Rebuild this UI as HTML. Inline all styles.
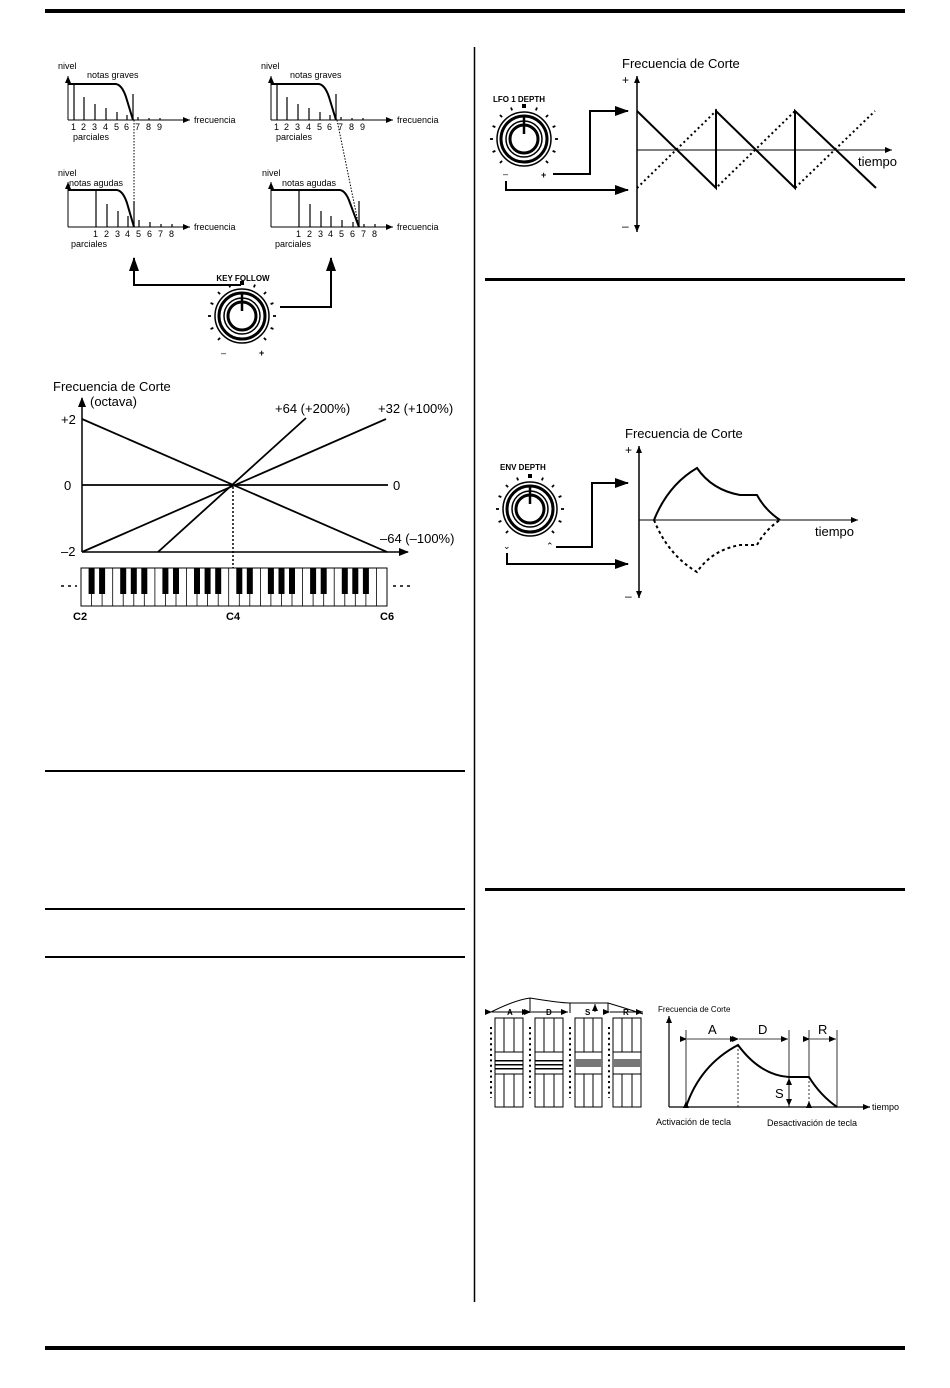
<!DOCTYPE html>
<html><head><meta charset="utf-8"><style>
html,body{margin:0;padding:0;background:#fff}
svg{display:block}
text{font-family:"Liberation Sans",Arial,sans-serif;fill:#000}
</style></head><body>
<svg width="950" height="1388" viewBox="0 0 950 1388" xmlns="http://www.w3.org/2000/svg">
<defs>
<marker id="ah" markerWidth="10" markerHeight="8" refX="9" refY="4" orient="auto" markerUnits="userSpaceOnUse"><path d="M0,0 L10,4 L0,8z" fill="#000"/></marker>
<marker id="as" markerWidth="7" markerHeight="6" refX="7" refY="3" orient="auto" markerUnits="userSpaceOnUse"><path d="M0,0 L7,3 L0,6z" fill="#000"/></marker>
<marker id="ab" markerWidth="14" markerHeight="10" refX="13" refY="5" orient="auto" markerUnits="userSpaceOnUse"><path d="M0,0 L14,5 L0,10z" fill="#000"/></marker>
<g id="tick"><line x1="0" y1="-31" x2="0" y2="-34" stroke="#000" stroke-width="1.8"/></g>
<g id="knob">
<use href="#tick" transform="rotate(-135)"/><use href="#tick" transform="rotate(-112.5)"/><use href="#tick" transform="rotate(-90)"/><use href="#tick" transform="rotate(-67.5)"/><use href="#tick" transform="rotate(-45)"/><use href="#tick" transform="rotate(-22.5)"/>
<rect x="-2" y="-35" width="4" height="4" fill="#000"/>
<use href="#tick" transform="rotate(22.5)"/><use href="#tick" transform="rotate(45)"/><use href="#tick" transform="rotate(67.5)"/><use href="#tick" transform="rotate(90)"/><use href="#tick" transform="rotate(112.5)"/><use href="#tick" transform="rotate(135)"/>
<circle r="27" fill="#fff" stroke="#000" stroke-width="1.5"/>
<circle r="23" fill="none" stroke="#000" stroke-width="3"/>
<circle r="18" fill="none" stroke="#000" stroke-width="1.5"/>
<circle r="14" fill="none" stroke="#000" stroke-width="3"/>
<line x1="0" y1="-22" x2="0" y2="-5" stroke="#000" stroke-width="2.5"/>
</g>
</defs>

<rect x="45" y="9" width="860" height="4" fill="#000"/>
<rect x="45" y="1346" width="860" height="4" fill="#000"/>
<line x1="474.5" y1="47" x2="474.5" y2="1302" stroke="#000" stroke-width="1.5"/>
<rect x="45" y="770" width="420" height="2" fill="#000"/>
<rect x="45" y="908" width="420" height="2" fill="#000"/>
<rect x="45" y="956" width="420" height="2" fill="#000"/>
<rect x="485" y="278" width="420" height="3" fill="#000"/>
<rect x="485" y="888" width="420" height="3" fill="#000"/>

<g font-size="9">
<text x="58" y="69">nivel</text><text x="87" y="78">notas graves</text>
<line x1="68" y1="120" x2="68" y2="76" stroke="#000" marker-end="url(#as)"/>
<line x1="68" y1="120" x2="190" y2="120" stroke="#000" marker-end="url(#as)"/>
<text x="194" y="123">frecuencia</text>
<path d="M68,84 L116,84 Q122,85 126,97 L133,120" fill="none" stroke="#000" stroke-width="2"/>
<g stroke="#000" stroke-width="1.2">
<line x1="74" y1="84" x2="74" y2="120"/><line x1="84" y1="97" x2="84" y2="120"/><line x1="95" y1="104" x2="95" y2="120"/><line x1="106" y1="108" x2="106" y2="120"/><line x1="117" y1="112" x2="117" y2="120"/><line x1="127" y1="115" x2="127" y2="120"/><line x1="133" y1="94" x2="133" y2="120"/><line x1="138" y1="117" x2="138" y2="120"/><line x1="149" y1="118" x2="149" y2="120"/><line x1="160" y1="118" x2="160" y2="120"/>
</g>
<text x="71" y="130">1</text><text x="81" y="130">2</text><text x="92" y="130">3</text><text x="103" y="130">4</text><text x="114" y="130">5</text><text x="124" y="130">6</text><text x="135" y="130">7</text><text x="146" y="130">8</text><text x="157" y="130">9</text>
<text x="73" y="140">parciales</text>
<text x="58" y="176">nivel</text><text x="69" y="186">notas agudas</text>
<line x1="68" y1="227" x2="68" y2="182" stroke="#000" marker-end="url(#as)"/>
<line x1="68" y1="227" x2="190" y2="227" stroke="#000" marker-end="url(#as)"/>
<text x="194" y="230">frecuencia</text>
<path d="M68,190 L117,190 Q123,191 127,203 L134,227" fill="none" stroke="#000" stroke-width="2"/>
<g stroke="#000" stroke-width="1.2">
<line x1="96" y1="190" x2="96" y2="227"/><line x1="107" y1="204" x2="107" y2="227"/><line x1="118" y1="211" x2="118" y2="227"/><line x1="128" y1="216" x2="128" y2="227"/><line x1="134" y1="201" x2="134" y2="227"/><line x1="139" y1="220" x2="139" y2="227"/><line x1="150" y1="222" x2="150" y2="227"/><line x1="161" y1="224" x2="161" y2="227"/><line x1="172" y1="224" x2="172" y2="227"/>
</g>
<text x="93" y="237">1</text><text x="104" y="237">2</text><text x="115" y="237">3</text><text x="125" y="237">4</text><text x="136" y="237">5</text><text x="147" y="237">6</text><text x="158" y="237">7</text><text x="169" y="237">8</text>
<text x="71" y="247">parciales</text>
<line x1="134" y1="120" x2="134" y2="227" stroke="#000" stroke-dasharray="1.5 1.5"/>

<g transform="translate(203,0)">
<text x="58" y="69">nivel</text><text x="87" y="78">notas graves</text>
<line x1="68" y1="120" x2="68" y2="76" stroke="#000" marker-end="url(#as)"/>
<line x1="68" y1="120" x2="190" y2="120" stroke="#000" marker-end="url(#as)"/>
<text x="194" y="123">frecuencia</text>
<path d="M68,84 L116,84 Q122,85 126,97 L133,120" fill="none" stroke="#000" stroke-width="2"/>
<g stroke="#000" stroke-width="1.2">
<line x1="74" y1="84" x2="74" y2="120"/><line x1="84" y1="97" x2="84" y2="120"/><line x1="95" y1="104" x2="95" y2="120"/><line x1="106" y1="108" x2="106" y2="120"/><line x1="117" y1="112" x2="117" y2="120"/><line x1="127" y1="115" x2="127" y2="120"/><line x1="133" y1="94" x2="133" y2="120"/><line x1="138" y1="117" x2="138" y2="120"/><line x1="149" y1="118" x2="149" y2="120"/><line x1="160" y1="118" x2="160" y2="120"/>
</g>
<text x="71" y="130">1</text><text x="81" y="130">2</text><text x="92" y="130">3</text><text x="103" y="130">4</text><text x="114" y="130">5</text><text x="124" y="130">6</text><text x="135" y="130">7</text><text x="146" y="130">8</text><text x="157" y="130">9</text>
<text x="73" y="140">parciales</text>
</g>
<text x="262" y="176">nivel</text><text x="282" y="186">notas agudas</text>
<line x1="271" y1="227" x2="271" y2="182" stroke="#000" marker-end="url(#as)"/>
<line x1="271" y1="227" x2="393" y2="227" stroke="#000" marker-end="url(#as)"/>
<text x="397" y="230">frecuencia</text>
<path d="M271,190 L340,190 Q346,191 350,203 L359,227" fill="none" stroke="#000" stroke-width="2"/>
<g stroke="#000" stroke-width="1.2">
<line x1="299" y1="190" x2="299" y2="227"/><line x1="310" y1="204" x2="310" y2="227"/><line x1="321" y1="211" x2="321" y2="227"/><line x1="331" y1="216" x2="331" y2="227"/><line x1="342" y1="220" x2="342" y2="227"/><line x1="353" y1="222" x2="353" y2="227"/><line x1="359" y1="201" x2="359" y2="227"/><line x1="364" y1="224" x2="364" y2="227"/><line x1="375" y1="224" x2="375" y2="227"/>
</g>
<text x="296" y="237">1</text><text x="307" y="237">2</text><text x="318" y="237">3</text><text x="328" y="237">4</text><text x="339" y="237">5</text><text x="350" y="237">6</text><text x="361" y="237">7</text><text x="372" y="237">8</text>
<text x="275" y="247">parciales</text>
<line x1="337" y1="120" x2="359" y2="227" stroke="#000" stroke-dasharray="1.5 1.5"/>
</g>
<polyline points="241,285 134,285 134,258" fill="none" stroke="#000" stroke-width="2" marker-end="url(#ab)"/>
<polyline points="280,307 331,307 331,258" fill="none" stroke="#000" stroke-width="2" marker-end="url(#ab)"/>
<text x="243" y="281" font-size="8" font-weight="bold" text-anchor="middle">KEY FOLLOW</text>
<use href="#knob" x="242" y="316"/>
<text x="221" y="356" font-size="9">–</text><text x="259" y="356" font-size="9" font-weight="bold">+</text>

<g font-size="13">
<text x="53" y="391">Frecuencia de Corte</text>
<text x="90" y="406">(octava)</text>
<text x="61" y="424">+2</text><text x="64" y="490">0</text><text x="61" y="556">–2</text>
<text x="275" y="413">+64 (+200%)</text><text x="378" y="413">+32 (+100%)</text>
<text x="393" y="490">0</text><text x="380" y="543">–64 (–100%)</text>
</g>
<line x1="82" y1="552" x2="82" y2="398" stroke="#000" stroke-width="1.5" marker-end="url(#ah)"/>
<line x1="82" y1="552" x2="408" y2="552" stroke="#000" stroke-width="1.5" marker-end="url(#ah)"/>
<g stroke="#000" stroke-width="1.8">
<line x1="82" y1="419" x2="387" y2="552"/>
<line x1="82" y1="552" x2="386" y2="419"/>
<line x1="82" y1="485" x2="388" y2="485"/>
<line x1="158" y1="552" x2="306" y2="418"/>
</g>
<line x1="233" y1="487" x2="233" y2="568" stroke="#000" stroke-width="1.5" stroke-dasharray="2 2"/>
<rect x="81" y="568" width="306" height="38" fill="#fff" stroke="#000" stroke-width="1"/>
<g stroke="#000" stroke-width="0.8">
<line x1="91.6" y1="568" x2="91.6" y2="606"/><line x1="102.1" y1="568" x2="102.1" y2="606"/><line x1="112.7" y1="568" x2="112.7" y2="606"/><line x1="123.2" y1="568" x2="123.2" y2="606"/><line x1="133.8" y1="568" x2="133.8" y2="606"/><line x1="144.3" y1="568" x2="144.3" y2="606"/><line x1="154.9" y1="568" x2="154.9" y2="606"/><line x1="165.4" y1="568" x2="165.4" y2="606"/><line x1="176" y1="568" x2="176" y2="606"/><line x1="186.5" y1="568" x2="186.5" y2="606"/><line x1="197" y1="568" x2="197" y2="606"/><line x1="207.6" y1="568" x2="207.6" y2="606"/><line x1="218.2" y1="568" x2="218.2" y2="606"/><line x1="228.7" y1="568" x2="228.7" y2="606"/><line x1="239.3" y1="568" x2="239.3" y2="606"/><line x1="249.8" y1="568" x2="249.8" y2="606"/><line x1="260.4" y1="568" x2="260.4" y2="606"/><line x1="270.9" y1="568" x2="270.9" y2="606"/><line x1="281.5" y1="568" x2="281.5" y2="606"/><line x1="292" y1="568" x2="292" y2="606"/><line x1="302.6" y1="568" x2="302.6" y2="606"/><line x1="313.1" y1="568" x2="313.1" y2="606"/><line x1="323.7" y1="568" x2="323.7" y2="606"/><line x1="334.2" y1="568" x2="334.2" y2="606"/><line x1="344.8" y1="568" x2="344.8" y2="606"/><line x1="355.3" y1="568" x2="355.3" y2="606"/><line x1="365.9" y1="568" x2="365.9" y2="606"/><line x1="376.4" y1="568" x2="376.4" y2="606"/>
</g>
<g fill="#000">
<rect x="88.6" y="568" width="6" height="26"/><rect x="99.1" y="568" width="6" height="26"/><rect x="120.2" y="568" width="6" height="26"/><rect x="130.8" y="568" width="6" height="26"/><rect x="141.3" y="568" width="6" height="26"/><rect x="162.4" y="568" width="6" height="26"/><rect x="173" y="568" width="6" height="26"/><rect x="194" y="568" width="6" height="26"/><rect x="204.6" y="568" width="6" height="26"/><rect x="215.2" y="568" width="6" height="26"/><rect x="236.3" y="568" width="6" height="26"/><rect x="246.8" y="568" width="6" height="26"/><rect x="267.9" y="568" width="6" height="26"/><rect x="278.5" y="568" width="6" height="26"/><rect x="289" y="568" width="6" height="26"/><rect x="310.1" y="568" width="6" height="26"/><rect x="320.7" y="568" width="6" height="26"/><rect x="341.8" y="568" width="6" height="26"/><rect x="352.3" y="568" width="6" height="26"/><rect x="362.9" y="568" width="6" height="26"/>
</g>
<line x1="61" y1="586" x2="77" y2="586" stroke="#000" stroke-width="1.5" stroke-dasharray="3 4"/>
<line x1="393" y1="586" x2="410" y2="586" stroke="#000" stroke-width="1.5" stroke-dasharray="3 4"/>
<g font-size="11" font-weight="bold"><text x="73" y="620">C2</text><text x="226" y="620">C4</text><text x="380" y="620">C6</text></g>

<text x="622" y="68" font-size="13">Frecuencia de Corte</text>
<text x="622" y="84" font-size="12">+</text><text x="622" y="230" font-size="12">–</text>
<line x1="637" y1="150" x2="637" y2="76" stroke="#000" stroke-width="1.5" marker-end="url(#as)"/>
<line x1="637" y1="150" x2="637" y2="232" stroke="#000" stroke-width="1.5" marker-end="url(#as)"/>
<line x1="637" y1="150" x2="892" y2="150" stroke="#000" stroke-width="1" marker-end="url(#as)"/>
<text x="858" y="166" font-size="13">tiempo</text>
<polyline points="637,111 716,188 716,111 795,188 795,111 876,188" fill="none" stroke="#000" stroke-width="2"/>
<polyline points="637,188 716,111 716,188 795,111 795,188 875,111" fill="none" stroke="#000" stroke-width="2" stroke-dasharray="2 3"/>
<text x="493" y="102" font-size="8" font-weight="bold">LFO 1 DEPTH</text>
<use href="#knob" x="524" y="139"/>
<text x="503" y="177" font-size="9">–</text><text x="541" y="178" font-size="9" font-weight="bold">+</text>
<polyline points="553,174 590,174 590,111 628,111" fill="none" stroke="#000" stroke-width="2" marker-end="url(#ab)"/>
<polyline points="506,181 506,190 628,190" fill="none" stroke="#000" stroke-width="2" marker-end="url(#ab)"/>

<text x="625" y="438" font-size="13">Frecuencia de Corte</text>
<text x="625" y="454" font-size="12">+</text><text x="625" y="600" font-size="12">–</text>
<line x1="639" y1="520" x2="639" y2="446" stroke="#000" stroke-width="1.5" marker-end="url(#as)"/>
<line x1="639" y1="520" x2="639" y2="598" stroke="#000" stroke-width="1.5" marker-end="url(#as)"/>
<line x1="639" y1="520" x2="858" y2="520" stroke="#000" stroke-width="1" marker-end="url(#as)"/>
<text x="815" y="536" font-size="13">tiempo</text>
<path d="M654,520 Q668,485 697,468 Q712,490 740,495 L757,495 Q765,510 780,520" fill="none" stroke="#000" stroke-width="2"/>
<path d="M654,520 Q668,555 697,572 Q712,550 740,545 L757,545 Q765,530 780,520" fill="none" stroke="#000" stroke-width="2" stroke-dasharray="3 3"/>
<text x="500" y="470" font-size="8" font-weight="bold">ENV DEPTH</text>
<use href="#knob" x="530" y="509"/>
<text x="503" y="549" font-size="9">⌄</text><text x="546" y="549" font-size="9">⌃</text>
<polyline points="556,547 592,547 592,483 628,483" fill="none" stroke="#000" stroke-width="2" marker-end="url(#ab)"/>
<polyline points="507,553 507,564 628,564" fill="none" stroke="#000" stroke-width="2" marker-end="url(#ab)"/>

<g stroke="#000" fill="none" stroke-width="1">
<path d="M491,1012 Q515,1000 530,998 Q560,1003 570,1003 L608,1003 Q625,1008 643,1014"/>
<line x1="530" y1="998" x2="530" y2="1013"/><line x1="570" y1="1003" x2="570" y2="1013"/><line x1="608" y1="1003" x2="608" y2="1013"/>
<line x1="492" y1="1012" x2="529" y2="1012" marker-start="url(#as)" marker-end="url(#as)"/>
<line x1="531" y1="1012" x2="568" y2="1012" marker-start="url(#as)" marker-end="url(#as)"/>
<line x1="610" y1="1012" x2="643" y2="1012" marker-start="url(#as)" marker-end="url(#as)"/>
<line x1="595" y1="1012" x2="595" y2="1004" marker-end="url(#as)"/>
</g>
<g font-size="8" font-weight="bold"><text x="507" y="1015">A</text><text x="546" y="1015">D</text><text x="585" y="1015">S</text><text x="623" y="1015">R</text></g>
<g stroke="#000" fill="#fff" stroke-width="1">
<rect x="495" y="1018" width="28" height="89"/><rect x="535" y="1018" width="28" height="89"/><rect x="575" y="1018" width="27" height="89"/><rect x="613" y="1018" width="28" height="89"/>
<line x1="504" y1="1018" x2="504" y2="1107"/><line x1="514" y1="1018" x2="514" y2="1107"/>
<line x1="544" y1="1018" x2="544" y2="1107"/><line x1="554" y1="1018" x2="554" y2="1107"/>
<line x1="584" y1="1018" x2="584" y2="1107"/><line x1="593" y1="1018" x2="593" y2="1107"/>
<line x1="622" y1="1018" x2="622" y2="1107"/><line x1="632" y1="1018" x2="632" y2="1107"/>
<rect x="495" y="1052" width="28" height="22"/><rect x="535" y="1052" width="28" height="22"/><rect x="575" y="1052" width="27" height="22"/><rect x="613" y="1052" width="28" height="22"/>
</g>
<g fill="#000">
<rect x="495" y="1060" width="28" height="1.5"/><rect x="495" y="1064" width="28" height="1.5"/><rect x="495" y="1068" width="28" height="1.5"/>
<rect x="535" y="1060" width="28" height="1.5"/><rect x="535" y="1064" width="28" height="1.5"/><rect x="535" y="1068" width="28" height="1.5"/>
<rect x="575" y="1059" width="27" height="8" fill="#777"/><rect x="613" y="1059" width="28" height="8" fill="#777"/>
</g>
<g stroke="#000" stroke-width="2" stroke-dasharray="2 3.4">
<line x1="491" y1="1027" x2="491" y2="1098"/><line x1="530" y1="1027" x2="530" y2="1098"/><line x1="570" y1="1027" x2="570" y2="1098"/><line x1="609" y1="1027" x2="609" y2="1098"/>
</g>
<text x="658" y="1012" font-size="8">Frecuencia de Corte</text>
<line x1="669" y1="1107" x2="669" y2="1016" stroke="#000" stroke-width="1.2" marker-end="url(#as)"/>
<line x1="669" y1="1107" x2="870" y2="1107" stroke="#000" stroke-width="1.2" marker-end="url(#as)"/>
<text x="872" y="1110" font-size="9">tiempo</text>
<g stroke="#000" stroke-width="0.8">
<line x1="686" y1="1030" x2="686" y2="1107"/><line x1="789" y1="1030" x2="789" y2="1107"/><line x1="809" y1="1030" x2="809" y2="1077"/><line x1="837" y1="1030" x2="837" y2="1107"/>
<line x1="738" y1="1045" x2="738" y2="1107" stroke-dasharray="2 2"/><line x1="809" y1="1077" x2="809" y2="1107" stroke-dasharray="2 2"/>
<line x1="687" y1="1039" x2="737" y2="1039" marker-start="url(#as)" marker-end="url(#as)"/>
<line x1="739" y1="1039" x2="788" y2="1039" marker-start="url(#as)" marker-end="url(#as)"/>
<line x1="810" y1="1039" x2="836" y2="1039" marker-start="url(#as)" marker-end="url(#as)"/>
<line x1="789" y1="1092" x2="789" y2="1078" marker-end="url(#as)"/><line x1="789" y1="1092" x2="789" y2="1106" marker-end="url(#as)"/>
</g>
<path d="M686,1107 Q700,1065 738,1045 Q760,1075 789,1077 L809,1077 Q820,1095 837,1107" fill="none" stroke="#000" stroke-width="2"/>
<g font-size="13"><text x="708" y="1034">A</text><text x="758" y="1034">D</text><text x="818" y="1034">R</text><text x="775" y="1098">S</text></g>
<path d="M683,1108 L686,1101 L689,1108z M806,1108 L809,1101 L812,1108z" fill="#000"/>
<g font-size="9"><text x="656" y="1125">Activación de tecla</text><text x="767" y="1126">Desactivación de tecla</text></g>
</svg>
</body></html>
